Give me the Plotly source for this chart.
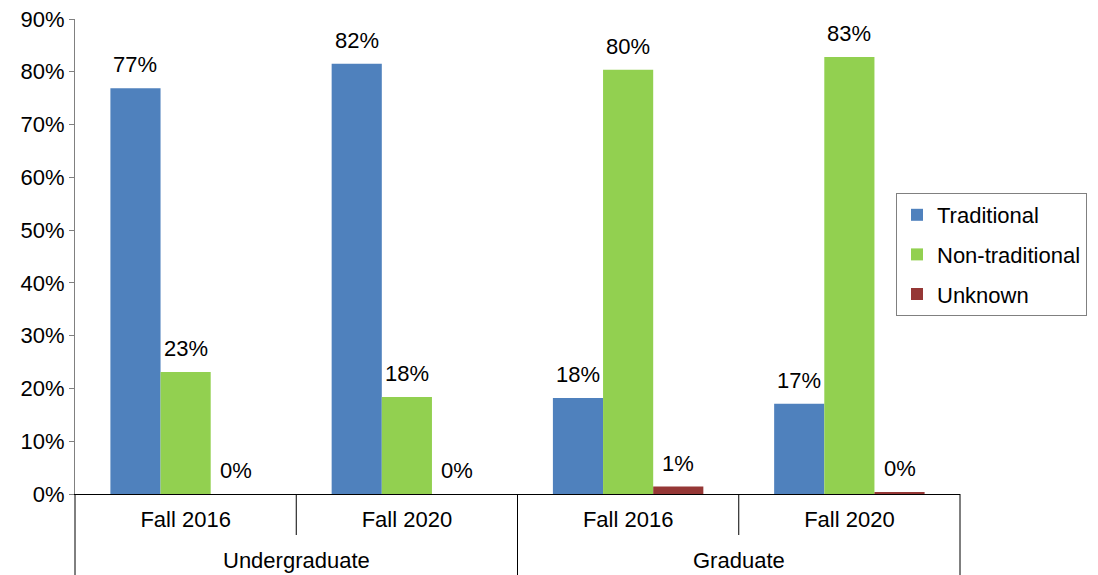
"""Traditional vs non-traditional enrollment share, grouped by level and term."""
import plotly.graph_objects as go

levels = ["Undergraduate", "Undergraduate", "Graduate", "Graduate"]
terms = ["Fall 2016", "Fall 2020", "Fall 2016", "Fall 2020"]

traditional = [76.9, 81.5, 18.2, 17.1]
non_traditional = [23.1, 18.4, 80.4, 82.8]
unknown = [0.0, 0.0, 1.4, 0.4]

series = [
    ("Traditional", traditional, "#4F81BD"),
    ("Non-traditional", non_traditional, "#92D050"),
    ("Unknown", unknown, "#953735"),
]

FONT = "Liberation Sans, Arial, sans-serif"
FS = 22
# the page body has an 8px margin, so the figure is 8px smaller than the window
W, H = 1090, 567
ML, MR, MT, MB = 67, 138, 11, 81
BARGAP = 0.32

# unique category keys, shown with the term as tick text
keys = [f"{lvl}|{term}" for lvl, term in zip(levels, terms)]

fig = go.Figure()
for name, vals, color in series:
    fig.add_trace(
        go.Bar(
            x=keys,
            y=vals,
            name=name,
            legendgroup=name,
            marker=dict(color=color, line=dict(width=0)),
        )
    )

# value labels above each bar
cat_px = (W - ML - MR) / len(keys)
bar_px = cat_px * (1 - BARGAP) / len(series)
annotations = []
for j, (name, vals, color) in enumerate(series):
    for k, v in zip(keys, vals):
        annotations.append(
            dict(x=k, y=v, xref="x", yref="y", text=f"{v:.0f}%",
                 showarrow=False, yanchor="bottom", yshift=9,
                 xshift=(j - 1) * bar_px,
                 font=dict(size=FS, family=FONT, color="#000000"))
        )

# outer level labels centred under their groups
plot_h = H - MT - MB
group_names = list(dict.fromkeys(levels))
for g in group_names:
    idx = [i for i, lvl in enumerate(levels) if lvl == g]
    xc = (min(idx) + max(idx) + 1) / 2 / len(levels)
    annotations.append(
        dict(x=xc, y=-66 / plot_h, xref="paper", yref="paper", text=g,
             showarrow=False, xanchor="center", yanchor="middle",
             font=dict(size=FS, family=FONT, color="#000000"))
    )

# divider lines under the axis
shapes = []
for i in range(len(keys) + 1):
    outer = i == 0 or i == len(keys) or levels[i - 1] != levels[i]
    depth = MB if outer else 41
    shapes.append(
        dict(type="line", xref="paper", yref="paper",
             x0=i / len(keys), x1=i / len(keys), y0=0, y1=-depth / plot_h,
             line=dict(color="#000000", width=1))
    )

fig.update_layout(
    width=W,
    height=H,
    margin=dict(l=ML, r=MR, t=MT, b=MB),
    plot_bgcolor="white",
    paper_bgcolor="white",
    font=dict(family=FONT, size=FS, color="#000000"),
    barmode="group",
    bargap=BARGAP,
    bargroupgap=0,
    shapes=shapes,
    annotations=annotations,
    showlegend=True,
    legend=dict(
        x=(888 - ML) / (W - ML - MR), y=(H - MB - 185) / plot_h,
        xanchor="left", yanchor="top",
        bordercolor="#808080", borderwidth=1,
        font=dict(size=FS, family=FONT),
        traceorder="grouped", tracegroupgap=8,
    ),
)
fig.update_xaxes(
    type="category",
    tickvals=keys, ticktext=terms,
    showline=True, linecolor="#000000", linewidth=1,
    ticks="", showgrid=False, automargin=False,
    ticklabelstandoff=6,
    tickfont=dict(size=FS, family=FONT),
)
fig.update_yaxes(
    range=[0, 90], dtick=10, ticksuffix="%",
    showline=True, linecolor="#808080", linewidth=1,
    ticks="outside", ticklen=5, tickcolor="#808080",
    showgrid=False, zeroline=False, automargin=False,
    ticklabeloverflow="allow",
    tickfont=dict(size=FS, family=FONT),
)

fig.write_html("out.html")
